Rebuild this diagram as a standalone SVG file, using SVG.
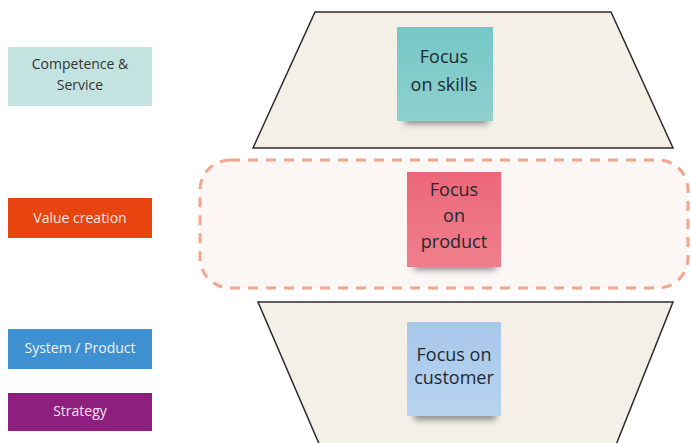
<svg xmlns="http://www.w3.org/2000/svg" width="691" height="443" viewBox="0 0 691 443">
  <style>
    .lbl { font-family: "Open Sans", "Noto Sans", sans-serif; font-size: 14px; text-anchor: middle; }
    .note { font-family: "Open Sans", "Noto Sans", sans-serif; font-size: 18px; text-anchor: middle; fill: #1f2a30; }
    .trap { fill: #f4f0e8; stroke: #2b2b2b; stroke-width: 1.5; stroke-linejoin: miter; }
  </style>
  <defs>
    <filter id="soft" x="-20%" y="-100%" width="140%" height="300%">
      <feGaussianBlur stdDeviation="3"/>
    </filter>
    <linearGradient id="gTeal" x1="0" y1="0" x2="0" y2="1">
      <stop offset="0" stop-color="#75c7c7"/>
      <stop offset="1" stop-color="#8ed0cd"/>
    </linearGradient>
    <linearGradient id="gPink" x1="0" y1="0" x2="0" y2="1">
      <stop offset="0" stop-color="#ec6779"/>
      <stop offset="1" stop-color="#ef7f8c"/>
    </linearGradient>
    <linearGradient id="gBlue" x1="0" y1="0" x2="0" y2="1">
      <stop offset="0" stop-color="#a8c8ea"/>
      <stop offset="1" stop-color="#b7d3ef"/>
    </linearGradient>
  </defs>

  <rect width="691" height="443" fill="#ffffff"/>

  <!-- layer shapes -->
  <g id="top-layer">
    <polygon class="trap" points="315,12 611,12 673,148 253,148"/>
  </g>
  <g id="bottom-layer">
    <polygon class="trap" points="258,302 673,302 610,460 326,460"/>
  </g>
  <g id="value-band">
    <rect x="200" y="160" width="488" height="128" rx="30" ry="30" fill="#fcf6f5" stroke="#f4a58c" stroke-width="3" stroke-dasharray="10 8"/>
  </g>

  <!-- sticky notes -->
  <g id="note-skills">
    <rect x="404" y="114" width="84" height="10" fill="#3a3a3a" opacity="0.55" filter="url(#soft)"/>
    <rect x="397" y="27" width="96" height="94" fill="url(#gTeal)"/>
    <text class="note" x="444" y="63" font-size="20">Focus</text>
    <text class="note" x="444" y="91" font-size="20">on skills</text>
  </g>
  <g id="note-product">
    <rect x="414" y="260" width="82" height="10" fill="#3a3a3a" opacity="0.55" filter="url(#soft)"/>
    <rect x="407" y="172" width="94" height="95" fill="url(#gPink)"/>
    <text class="note" x="454" y="196">Focus</text>
    <text class="note" x="454" y="222">on</text>
    <text class="note" x="454" y="248">product</text>
  </g>
  <g id="note-customer">
    <rect x="414" y="410" width="82" height="10" fill="#3a3a3a" opacity="0.55" filter="url(#soft)"/>
    <rect x="407" y="322" width="94" height="94" fill="url(#gBlue)"/>
    <text class="note" x="454" y="361" font-size="17">Focus on</text>
    <text class="note" x="454" y="384" font-size="17">customer</text>
  </g>

  <!-- legend labels -->
  <g id="label-competence">
    <rect x="8" y="47" width="144" height="59" fill="#c2e3df"/>
    <text class="lbl" x="80" y="69" fill="#333333">Competence &amp;</text>
    <text class="lbl" x="80" y="90" fill="#333333">Service</text>
  </g>
  <g id="label-value">
    <rect x="8" y="198" width="144" height="40" fill="#e8440f"/>
    <text class="lbl" x="80" y="223" fill="#fbe9e2">Value creation</text>
  </g>
  <g id="label-system">
    <rect x="8" y="329" width="144" height="40" fill="#3f90d1"/>
    <text class="lbl" x="80" y="353" fill="#eef4fa">System / Product</text>
  </g>
  <g id="label-strategy">
    <rect x="8" y="393" width="144" height="38" fill="#8e1f7f"/>
    <text class="lbl" x="80" y="416" fill="#f5e6f2">Strategy</text>
  </g>

  <g id="connectors"></g>
</svg>
